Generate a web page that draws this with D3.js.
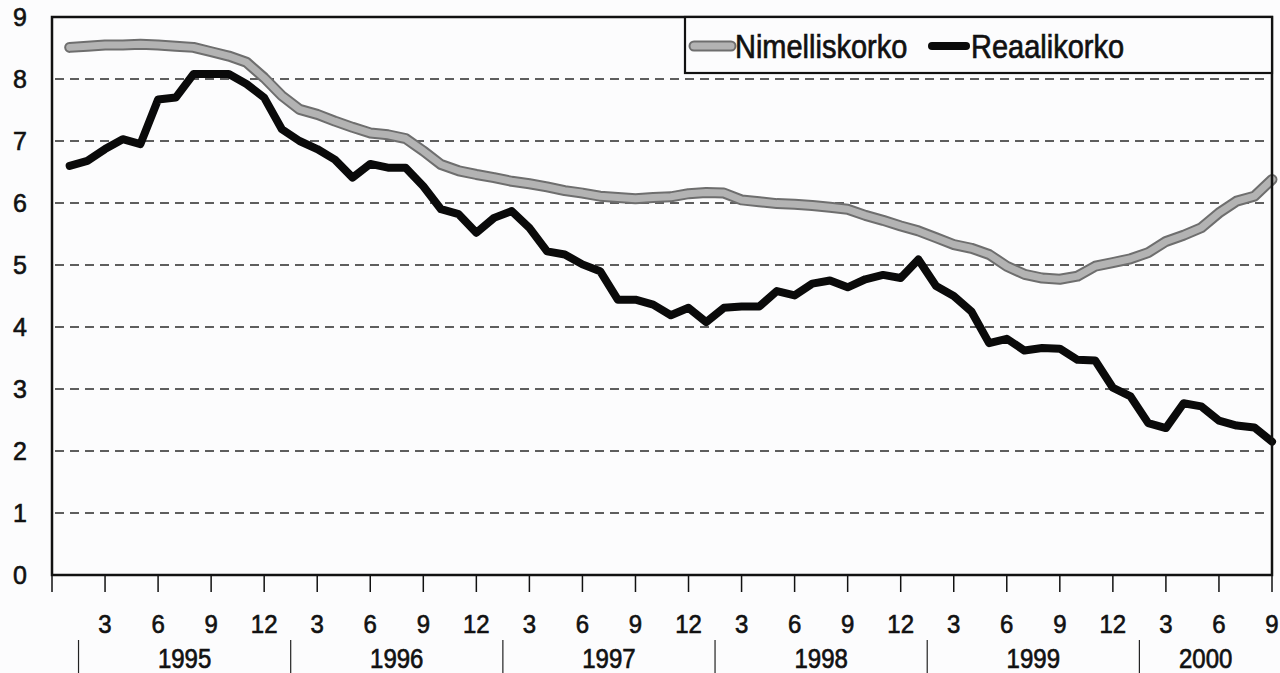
<!DOCTYPE html>
<html>
<head>
<meta charset="utf-8">
<script src="https://cdn.jsdelivr.net/npm/d3@7"></script>
<style>
  html, body { margin: 0; padding: 0; background: #fcfcfd; }
  svg { display: block; font-family: "Liberation Sans", Arial, sans-serif; }
  svg text { stroke: #111; stroke-width: 0.6px; }
</style>
</head>
<body>
<div id="chart"></div>
<script>
// Monthly values, Jan 1995 - Sep 2000
const YEARS = ['1995', '1996', '1997', '1998', '1999', '2000'];
const MONTH_TICKS = [3, 6, 9, 12];
const Y_TICKS = [0, 1, 2, 3, 4, 5, 6, 7, 8, 9];

const nimelliskorko = [
  8.51, 8.53, 8.55, 8.55, 8.56, 8.55, 8.53, 8.51, 8.44, 8.37, 8.27, 8.02,
  7.73, 7.51, 7.43, 7.32, 7.22, 7.13, 7.10, 7.04, 6.84, 6.62, 6.52, 6.46,
  6.41, 6.35, 6.31, 6.26, 6.20, 6.16, 6.11, 6.09, 6.07, 6.09, 6.10, 6.15,
  6.17, 6.16, 6.05, 6.02, 5.99, 5.98, 5.96, 5.93, 5.90, 5.80, 5.72, 5.63,
  5.55, 5.44, 5.33, 5.27, 5.17, 4.98, 4.85, 4.79, 4.77, 4.82, 4.98, 5.04,
  5.10, 5.20, 5.38, 5.48, 5.60, 5.84, 6.03, 6.11, 6.38
];

const reaalikorko = [
  6.60, 6.68, 6.87, 7.03, 6.95, 7.67, 7.70, 8.08, 8.08, 8.08, 7.92, 7.70,
  7.19, 7.00, 6.87, 6.70, 6.41, 6.63, 6.57, 6.57, 6.27, 5.90, 5.82, 5.52,
  5.76, 5.87, 5.60, 5.22, 5.17, 5.01, 4.90, 4.44, 4.44, 4.36, 4.19, 4.31,
  4.08, 4.31, 4.33, 4.33, 4.58, 4.51, 4.70, 4.75, 4.64, 4.77, 4.84, 4.79,
  5.09, 4.66, 4.50, 4.25, 3.74, 3.81, 3.62, 3.66, 3.65, 3.47, 3.46, 3.02,
  2.88, 2.45, 2.37, 2.77, 2.72, 2.49, 2.41, 2.38, 2.15
];

const W = 1280, H = 673;
const plotLeft = 52, plotRight = 1272, plotTop = 17, plotBottom = 575;
const N = nimelliskorko.length;  // 69 months

const svg = d3.select('#chart').append('svg')
  .attr('width', W).attr('height', H);

// index 0 = Dec 1994 (axis origin), index 1 = Jan 1995
const x = d3.scaleLinear().domain([0, N]).range([plotLeft, plotRight]);
const y = d3.scaleLinear().domain([0, 9]).range([plotBottom, plotTop]);

// dashed gridlines
svg.append('g')
  .selectAll('line')
  .data(Y_TICKS.filter(d => d > 0 && d < 9))
  .enter().append('line')
  .attr('x1', plotLeft + 3).attr('x2', plotRight - 3)
  .attr('y1', d => y(d)).attr('y2', d => y(d))
  .attr('stroke', '#2a2a2a')
  .attr('stroke-width', 1.6)
  .attr('stroke-dasharray', '9,6');

// y labels
svg.append('g')
  .selectAll('text')
  .data(Y_TICKS)
  .enter().append('text')
  .attr('transform', d => `translate(27,${y(d) + 9}) scale(1,1.05)`)
  .attr('text-anchor', 'end')
  .attr('font-size', 25)
  .attr('fill', '#111')
  .text(d => d);

// month ticks along bottom, every 3 months
const tickIdx = d3.range(0, N + 1, 3);
svg.append('g')
  .selectAll('line')
  .data(tickIdx)
  .enter().append('line')
  .attr('x1', d => x(d)).attr('x2', d => x(d))
  .attr('y1', plotBottom).attr('y2', plotBottom + 17)
  .attr('stroke', '#111').attr('stroke-width', 1.5);

svg.append('g')
  .selectAll('text')
  .data(tickIdx.filter(d => d > 0))
  .enter().append('text')
  .attr('transform', d => `translate(${x(d)},${633}) scale(1,1.1)`)
  .attr('text-anchor', 'middle')
  .attr('font-size', 24)
  .attr('fill', '#111')
  .text(d => MONTH_TICKS[(d / 3 - 1) % 4]);

// year separators and labels
const sepIdx = YEARS.map((_, i) => 1.5 + i * 12);
svg.append('g')
  .selectAll('line')
  .data(sepIdx)
  .enter().append('line')
  .attr('x1', d => x(d)).attr('x2', d => x(d))
  .attr('y1', 640).attr('y2', H)
  .attr('stroke', '#222').attr('stroke-width', 1.2);

svg.append('g')
  .selectAll('text')
  .data(YEARS)
  .enter().append('text')
  .attr('transform', (d, i) => {
    const a = sepIdx[i];
    const b = i < YEARS.length - 1 ? sepIdx[i + 1] : N;
    return `translate(${(x(a) + x(b)) / 2},${668}) scale(1,1.12)`;
  })
  .attr('text-anchor', 'middle')
  .attr('font-size', 24)
  .attr('fill', '#111')
  .text(d => d);

// lines
const line = d3.line()
  .x((d, i) => x(i + 1))
  .y(d => y(d));

svg.append('path')
  .datum(nimelliskorko)
  .attr('d', line)
  .attr('fill', 'none')
  .attr('stroke', '#6e6e6e')
  .attr('stroke-width', 11)
  .attr('stroke-linejoin', 'round')
  .attr('stroke-linecap', 'round');

svg.append('path')
  .datum(nimelliskorko)
  .attr('d', line)
  .attr('fill', 'none')
  .attr('stroke', '#b3b3b3')
  .attr('stroke-width', 7)
  .attr('stroke-linejoin', 'round')
  .attr('stroke-linecap', 'round');

svg.append('path')
  .datum(reaalikorko)
  .attr('d', line)
  .attr('fill', 'none')
  .attr('stroke', '#0a0a0a')
  .attr('stroke-width', 8)
  .attr('stroke-linejoin', 'round')
  .attr('stroke-linecap', 'round');

// plot frame
svg.append('rect')
  .attr('x', plotLeft).attr('y', plotTop)
  .attr('width', plotRight - plotLeft).attr('height', plotBottom - plotTop)
  .attr('fill', 'none')
  .attr('stroke', '#111')
  .attr('stroke-width', 2.5);

// legend
const lg = svg.append('g');
lg.append('rect')
  .attr('x', 685).attr('y', plotTop)
  .attr('width', plotRight - 685).attr('height', 56)
  .attr('fill', '#fcfcfd')
  .attr('stroke', '#111')
  .attr('stroke-width', 2.2);

lg.append('line')
  .attr('x1', 694).attr('x2', 731).attr('y1', 46).attr('y2', 46)
  .attr('stroke', '#6e6e6e').attr('stroke-width', 11).attr('stroke-linecap', 'round');
lg.append('line')
  .attr('x1', 694).attr('x2', 731).attr('y1', 46).attr('y2', 46)
  .attr('stroke', '#b3b3b3').attr('stroke-width', 7).attr('stroke-linecap', 'round');
lg.append('text')
  .attr('transform', 'translate(735,58) scale(1,1.12)')
  .attr('font-size', 29)
  .attr('fill', '#111')
  .text('Nimelliskorko');

lg.append('line')
  .attr('x1', 932).attr('x2', 966).attr('y1', 46).attr('y2', 46)
  .attr('stroke', '#0a0a0a').attr('stroke-width', 8).attr('stroke-linecap', 'round');
lg.append('text')
  .attr('transform', 'translate(971,58) scale(1,1.12)')
  .attr('font-size', 29)
  .attr('fill', '#111')
  .text('Reaalikorko');
</script>
</body>
</html>
